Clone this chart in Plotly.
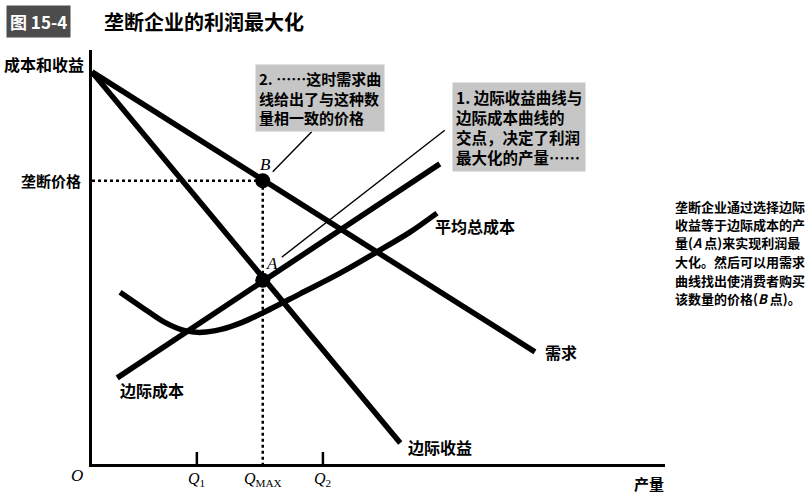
import plotly.graph_objects as go

# ---------------- data (economic units) ----------------
q_demand = [0.0, 7.73]
p_demand = [9.47, 2.71]

q_mr = [0.0, 5.38]
p_mr = [9.47, 0.51]

q_mc = [0.44, 6.07]
p_mc = [2.08, 7.25]

q_atc = [0.49, 0.92, 1.27, 1.62, 1.92, 2.25, 2.62, 2.98, 3.63, 4.33, 4.97, 5.55, 6.02]
p_atc = [4.15, 3.74, 3.42, 3.22, 3.18, 3.25, 3.42, 3.65, 4.11, 4.61, 5.12, 5.60, 6.06]

q_max = 2.98      # Q_MAX
p_mono = 6.84     # monopoly price (point B)
p_a = 4.44        # MR = MC (point A)
q_1 = 1.83
q_2 = 4.03
tick_h = 0.29

q_tick_vals = [q_1, q_max, q_2]
q_tick_text = ["<i>Q</i><sub>1</sub>", "<i>Q</i><sub>MAX</sub>", "<i>Q</i><sub>2</sub>"]

caption_lines = [
    "垄断企业通过选择边际",
    "收益等于边际成本的产",
    "量(<i>A</i> 点)来实现利润最",
    "大化。然后可以用需求",
    "曲线找出使消费者购买",
    "该数量的价格(<i>B</i> 点)。",
]

# ---------------- layout helpers ----------------
L, R, T, B = 92, 665, 50, 464
W, H = R - L, B - T
XU, YU = W / 10, H / 10   # pixels per data unit


def px(x):
    return (x - L) / W


def py(y):
    return (B - y) / H


CJK = "Noto Sans CJK SC"
SERIF = "Liberation Serif"
LW = 5.5

fig = go.Figure()


def line(xs, ys, width=LW, dash=None, smooth=False):
    fig.add_trace(go.Scatter(x=xs, y=ys, mode="lines", cliponaxis=False,
                             line=dict(color="black", width=width, dash=dash,
                                       shape="spline" if smooth else "linear",
                                       smoothing=0.9 if smooth else None),
                             hoverinfo="skip", showlegend=False))


# dotted guides
line([0, q_max], [p_mono, p_mono], width=2.5, dash="dot")
line([q_max, q_max], [p_mono, 0], width=2.5, dash="dot")

# curves
line(q_demand, p_demand)
line(q_mr, p_mr)
line(q_mc, p_mc)
line(q_atc, p_atc, smooth=True)

# tick marks at Q1, Q2
line([q_1, q_1, None, q_2, q_2], [0, tick_h, None, 0, tick_h], width=2.5)

# leader lines from the callouts to points B and A (offsets in pixels)
line([q_max + 10 / XU, q_max + 49 / XU], [p_mono + 9 / YU, p_mono + 49 / YU], width=1.4)
line([q_max + 19 / XU, q_max + 182 / XU], [p_a + 23 / YU, p_a + 150 / YU], width=1.4)

# points A and B
fig.add_trace(go.Scatter(x=[q_max, q_max], y=[p_mono, p_a], mode="markers", cliponaxis=False,
                         marker=dict(color="black", size=15), hoverinfo="skip", showlegend=False))

ann = []


def text(x, y, s, size=16, xanchor="center", yanchor="middle", family=CJK, weight="bold",
         xref="paper", yref="paper", **kw):
    ann.append(dict(x=x, y=y, xref=xref, yref=yref, text=s, showarrow=False,
                    xanchor=xanchor, yanchor=yanchor,
                    font=dict(family=family, size=size, color="black", weight=weight), **kw))


# title
ann.append(dict(x=px(6), y=py(22), xref="paper", yref="paper", text="图 15-4", showarrow=False,
                xanchor="left", yanchor="middle", bgcolor="#4c4c4c", borderpad=3,
                font=dict(family=CJK, size=17, color="white", weight="bold")))
text(px(102), py(22), "垄断企业的利润最大化", size=20, xanchor="left")

# axis labels
text(px(86), py(64), "成本和收益", size=16, xanchor="right")
text(px(83), py(181), "垄断价格", size=15, xanchor="right")
text(px(649), py(483), "产量", size=15)
text(px(77), py(476), "<i>O</i>", size=17, family=SERIF, weight="normal")
for qv, qt in zip(q_tick_vals, q_tick_text):
    ann.append(dict(x=qv, y=0, xref="x", yref="y", yshift=-15, text=qt, showarrow=False,
                    xanchor="center", yanchor="middle",
                    font=dict(family=SERIF, size=16, color="black")))

# curve labels
text(px(152), py(390), "边际成本", size=16)
text(px(475), py(226), "平均总成本", size=16)
text(px(543), py(352), "需求", size=16, xanchor="left")
text(px(440), py(447), "边际收益", size=16)

# point labels
ann.append(dict(x=q_max, y=p_mono, xref="x", yref="y", xshift=3, yshift=16, text="<i>B</i>",
                showarrow=False, xanchor="center", yanchor="middle",
                font=dict(family=SERIF, size=17, color="black")))
ann.append(dict(x=q_max, y=p_a, xref="x", yref="y", xshift=9, yshift=17, text="<i>A</i>",
                showarrow=False, xanchor="center", yanchor="middle",
                font=dict(family=SERIF, size=17, color="black")))

# callout boxes
ann.append(dict(x=px(320), y=py(98), xref="paper", yref="paper",
                text="2. ……这时需求曲<br>线给出了与这种数<br>量相一致的价格 ",
                showarrow=False, align="left", xanchor="center", yanchor="middle",
                bgcolor="#c6c6c6", borderpad=3,
                font=dict(family=CJK, size=15, color="black", weight="bold")))
ann.append(dict(x=px(519), y=py(127), xref="paper", yref="paper",
                text="1. 边际收益曲线与<br>边际成本曲线的<br>交点，决定了利润<br>最大化的产量……",
                showarrow=False, align="left", xanchor="center", yanchor="middle",
                bgcolor="#c6c6c6", borderpad=3,
                font=dict(family=CJK, size=15.5, color="black", weight="bold")))

# side caption, one line at a time
for i, s in enumerate(caption_lines):
    text(px(673), py(206 + 18.5 * i), s, size=13, xanchor="left", weight=600)

fig.update_layout(
    width=812, height=496,
    margin=dict(l=L, r=812 - R, t=T, b=496 - B),
    paper_bgcolor="white", plot_bgcolor="white",
    xaxis=dict(range=[0, 10], showgrid=False, zeroline=False, showline=True, linecolor="black",
               linewidth=3, showticklabels=False, ticks=""),
    yaxis=dict(range=[0, 10], showgrid=False, zeroline=False, showline=True, linecolor="black",
               linewidth=3, showticklabels=False, ticks=""),
    annotations=ann,
    showlegend=False,
)

fig.write_html("out.html")
